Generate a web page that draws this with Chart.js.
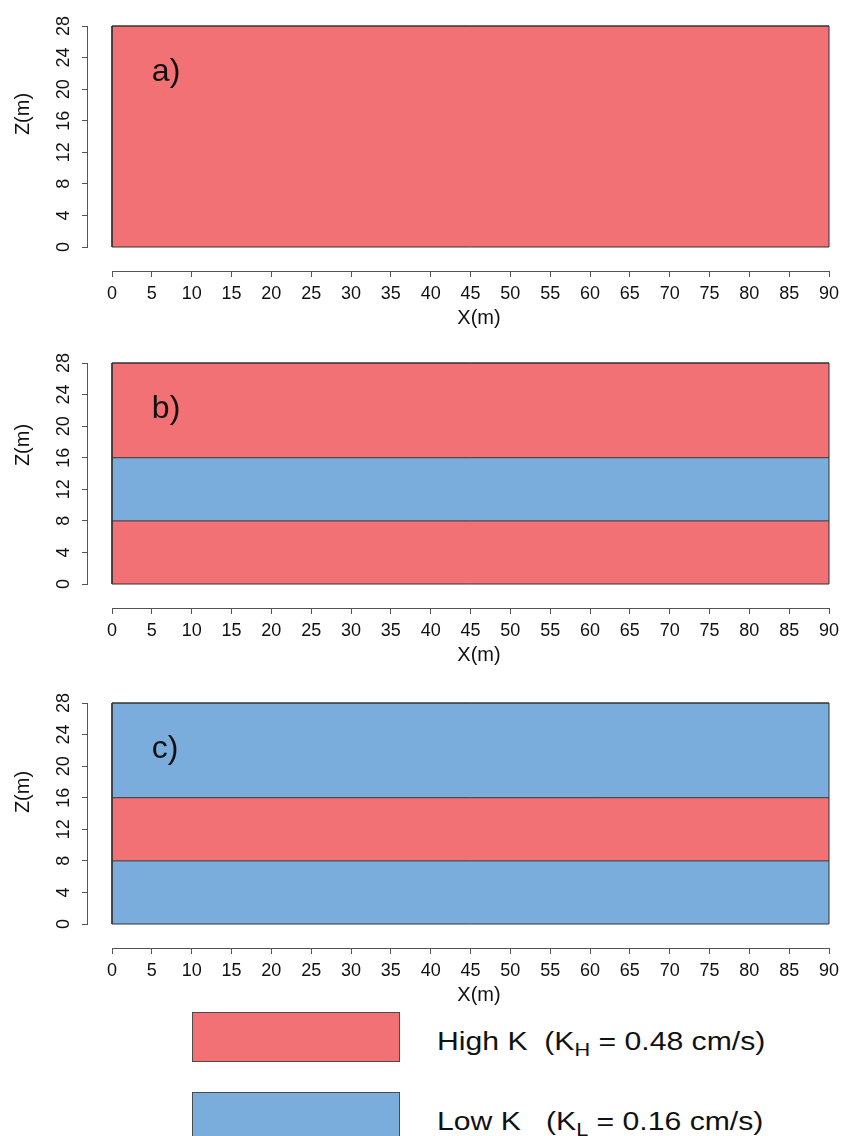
<!DOCTYPE html>
<html>
<head>
<meta charset="utf-8">
<script src="https://cdn.jsdelivr.net/npm/chart.js@4.4.1/dist/chart.umd.min.js"></script>
<style>
  html, body { margin: 0; padding: 0; background: #fff; }
  body { width: 857px; height: 1136px; overflow: hidden; position: relative;
         font-family: "Liberation Sans", Arial, sans-serif; color: #111; }
  .panel { position: absolute; left: 0; width: 857px; height: 330px; }
  .legbox { position: absolute; left: 192px; width: 206px; height: 48px; border: 1px solid #4a4a4a; }
  .legtext { position: absolute; left: 437px; font-size: 26px; line-height: 26px; white-space: pre;
             transform: scaleX(1.16); transform-origin: 0 50%; }
  .legtext sub { font-size: 0.72em; vertical-align: -0.32em; line-height: 0; }
</style>
</head>
<body>
<div class="panel" style="top:0px"><canvas id="panelA" width="857" height="330"></canvas></div>
<div class="panel" style="top:337px"><canvas id="panelB" width="857" height="330"></canvas></div>
<div class="panel" style="top:677px"><canvas id="panelC" width="857" height="330"></canvas></div>
<div id="legend"></div>

<script>
// Domain extent (m) and axis tick values
const domainLength = 90;
const domainDepth = 28;
const xTicks = [0, 5, 10, 15, 20, 25, 30, 35, 40, 45, 50, 55, 60, 65, 70, 75, 80, 85, 90];
const zTicks = [0, 4, 8, 12, 16, 20, 24, 28];

// Layer boundaries (bottom to top) and the conductivity class of each layer
const boundsA = [0, 28];
const kindsA = ['high'];
const boundsB = [0, 8, 16, 28];
const kindsB = ['high', 'low', 'high'];
const boundsC = [0, 8, 16, 28];
const kindsC = ['low', 'high', 'low'];
const panelLabels = ['a)', 'b)', 'c)'];

// Hydraulic conductivity of each class (cm/s)
const kClasses = ['high', 'low'];
const kNames = ['High K', 'Low K'];
const kSubs = ['H', 'L'];
const kValues = [0.48, 0.16];

const kColors = { high: '#F27175', low: '#7BADDC' };
const edgeColor = '#333333';
const axisColor = '#555555';
const FONT = '"Liberation Sans", Arial, Helvetica, sans-serif';

// Pixel layout of a panel canvas
const L = { areaLeft: 88, zeroX: 112, endX: 829, areaTop: 26, zeroY: 247, axisY: 271 };
const xMin = -(L.zeroX - L.areaLeft) / (L.endX - L.zeroX) * domainLength;
const yMin = -(L.axisY - L.zeroY) / (L.zeroY - L.areaTop) * domainDepth;

// Axis lines spanning the first to last tick, axis titles, and panel tag
const decor = {
  id: 'decor',
  afterDraw(chart, args, opts) {
    const { ctx } = chart;
    const x = chart.scales.x, y = chart.scales.y;
    ctx.save();
    ctx.strokeStyle = axisColor;
    ctx.lineWidth = 1;
    ctx.beginPath();
    const by = Math.round(x.top) + 0.5;
    ctx.moveTo(x.getPixelForValue(xTicks[0]), by);
    ctx.lineTo(x.getPixelForValue(xTicks[xTicks.length - 1]), by);
    const lx = Math.round(y.right) - 0.5;
    ctx.moveTo(lx, y.getPixelForValue(zTicks[0]));
    ctx.lineTo(lx, y.getPixelForValue(zTicks[zTicks.length - 1]));
    ctx.stroke();

    ctx.fillStyle = '#111';
    ctx.font = '20px ' + FONT;
    ctx.textAlign = 'center';
    ctx.textBaseline = 'middle';
    ctx.fillText('X(m)', 479, 318);
    ctx.save();
    ctx.translate(23, opts.zTitleY);
    ctx.rotate(-Math.PI / 2);
    ctx.fillText('Z(m)', 0, 0);
    ctx.restore();

    ctx.font = '32px ' + FONT;
    ctx.textAlign = 'left';
    ctx.fillText(opts.tag, x.getPixelForValue(5), y.getPixelForValue(22.2));
    ctx.restore();
  }
};

function layerDatasets(bounds, kinds) {
  const ds = [];
  // outline of the model domain, drawn on top of everything
  ds.push({
    data: [{ x: 0, y: 0 }, { x: domainLength, y: 0 }, { x: domainLength, y: domainDepth },
           { x: 0, y: domainDepth }, { x: 0, y: 0 }],
    showLine: true, fill: false, borderColor: edgeColor, borderWidth: 1,
    pointRadius: 0, clip: false
  });
  for (let i = kinds.length - 1; i >= 0; i--) {
    const top = bounds[i + 1], bottom = bounds[i];
    ds.push({
      data: [{ x: 0, y: top }, { x: domainLength, y: top }],
      showLine: true,
      fill: { value: bottom },
      backgroundColor: kColors[kinds[i]],
      borderColor: edgeColor,
      borderWidth: 1,
      pointRadius: 0,
      clip: false
    });
  }
  return ds;
}

function makePanel(id, bounds, kinds, tag, zTitleY) {
  new Chart(document.getElementById(id), {
    type: 'scatter',
    data: { datasets: layerDatasets(bounds, kinds) },
    options: {
      responsive: false,
      animation: false,
      layout: { padding: { top: L.areaTop, right: 857 - L.endX, left: 0, bottom: 0 } },
      plugins: {
        legend: { display: false },
        tooltip: { enabled: false },
        filler: { drawTime: 'beforeDatasetsDraw' },
        decor: { tag: tag, zTitleY: zTitleY }
      },
      scales: {
        x: {
          type: 'linear', min: xMin, max: domainLength,
          afterBuildTicks: s => { s.ticks = xTicks.map(v => ({ value: v })); },
          afterFit: s => { s.height = 330 - L.axisY; },
          ticks: { font: { size: 18, family: FONT }, color: '#111', padding: 6,
                   autoSkip: false, maxRotation: 0, callback: v => String(v) },
          grid: { drawOnChartArea: false, drawTicks: true, tickLength: 6, color: axisColor, lineWidth: 1 },
          border: { display: false }
        },
        y: {
          type: 'linear', min: yMin, max: domainDepth,
          afterBuildTicks: s => { s.ticks = zTicks.map(v => ({ value: v })); },
          afterFit: s => { s.width = L.areaLeft; },
          ticks: { font: { size: 18, family: FONT }, color: '#111', padding: 8,
                   autoSkip: false, minRotation: 90, maxRotation: 90, crossAlign: 'center',
                   callback: v => String(v) },
          grid: { drawOnChartArea: false, drawTicks: true, tickLength: 6, color: axisColor, lineWidth: 1 },
          border: { display: false }
        }
      }
    },
    plugins: [decor]
  });
}

makePanel('panelA', boundsA, kindsA, panelLabels[0], 114);
makePanel('panelB', boundsB, kindsB, panelLabels[1], 108);
makePanel('panelC', boundsC, kindsC, panelLabels[2], 115);

// Legend: one swatch and label per conductivity class
const legend = document.getElementById('legend');
const legendTops = [1012, 1092];
kClasses.forEach((k, i) => {
  const box = document.createElement('div');
  box.className = 'legbox';
  box.style.top = legendTops[i] + 'px';
  box.style.background = kColors[k];
  legend.appendChild(box);
  const txt = document.createElement('div');
  txt.className = 'legtext';
  txt.style.top = (legendTops[i] + 16) + 'px';
  txt.innerHTML = kNames[i] + (i === 0 ? '  ' : '   ') + '(K<sub>' + kSubs[i] + '</sub> = ' +
                  kValues[i].toFixed(2) + ' cm/s)';
  legend.appendChild(txt);
});
</script>
</body>
</html>
